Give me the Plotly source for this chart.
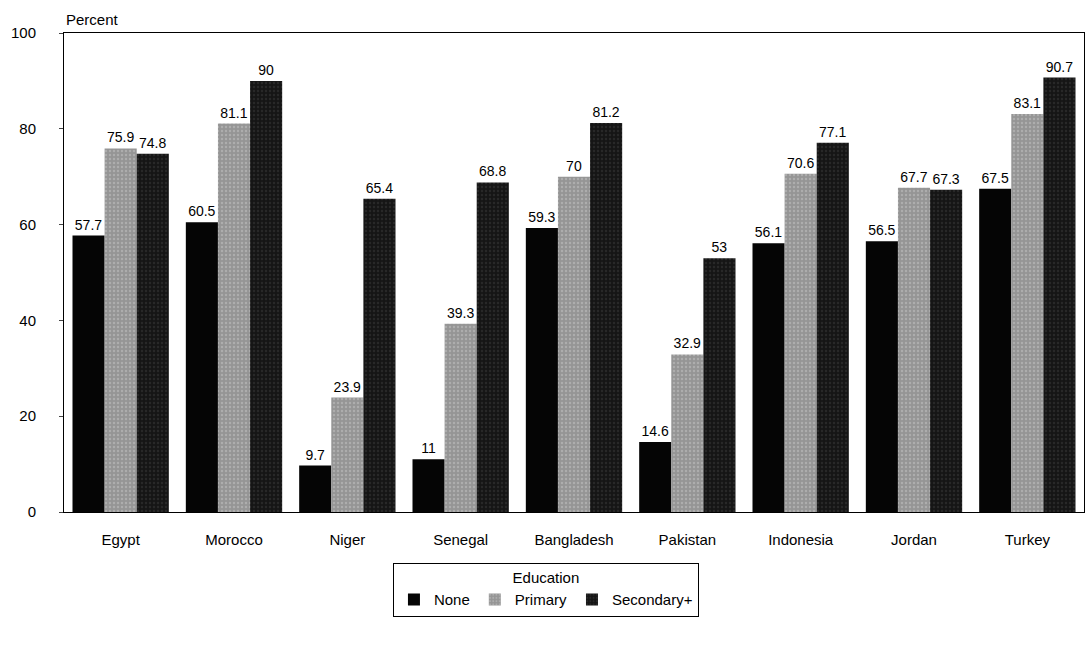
import plotly.graph_objects as go

countries = ["Egypt", "Morocco", "Niger", "Senegal", "Bangladesh", "Pakistan", "Indonesia", "Jordan", "Turkey"]
none_vals = [57.7, 60.5, 9.7, 11, 59.3, 14.6, 56.1, 56.5, 67.5]
primary_vals = [75.9, 81.1, 23.9, 39.3, 70, 32.9, 70.6, 67.7, 83.1]
secondary_vals = [74.8, 90, 65.4, 68.8, 81.2, 53, 77.1, 67.3, 90.7]

series = [
    ("None", none_vals, "#050505", None),
    ("Primary", primary_vals, "#959595", "#c4c4c4"),
    ("Secondary+", secondary_vals, "#151515", "#3a3a3a"),
]

fig = go.Figure()
for name, vals, col, fg in series:
    marker = dict(color=col, line=dict(width=0))
    if fg:
        marker["pattern"] = dict(shape=".", fgcolor=fg, bgcolor=col, size=4, solidity=0.3)
    fig.add_trace(go.Bar(
        name=name, x=countries, y=vals, marker=marker,
        text=[f"{v:g}" for v in vals], textposition="outside",
        textfont=dict(size=14, color="black", family="Liberation Sans"),
        cliponaxis=False,
    ))

fig.update_layout(
    barmode="group", bargap=0.15, bargroupgap=0,
    width=1086, height=647,
    margin=dict(l=64, r=2, t=33, b=135),
    plot_bgcolor="white", paper_bgcolor="white",
    font=dict(family="Liberation Sans", size=15, color="black"),
    xaxis=dict(showline=True, linecolor="black", linewidth=1, mirror=True, ticks="",
               ticklabelstandoff=14, tickfont=dict(size=15)),
    yaxis=dict(range=[0, 100], tickvals=[0, 20, 40, 60, 80, 100], showgrid=False, zeroline=False,
               showline=True, linecolor="black", linewidth=1, mirror=True, ticks="outside", ticklen=4,
               ticklabelstandoff=20, tickfont=dict(size=15)),
    legend=dict(orientation="h", x=0.4725, xanchor="center", y=-0.106, yanchor="top",
                bordercolor="black", borderwidth=1,
                title=dict(text="Education", side="top center", font=dict(size=15)),
                font=dict(size=15), itemwidth=30, tracegroupgap=0),
    annotations=[dict(text="Percent", x=0, xref="paper", y=1, yref="paper", xanchor="left", yanchor="bottom",
                      xshift=0, yshift=3, showarrow=False, font=dict(size=15))],
    showlegend=True,
)

fig.write_html("out.html", config={"displayModeBar": False},
               post_script="document.body.style.margin='0';")
